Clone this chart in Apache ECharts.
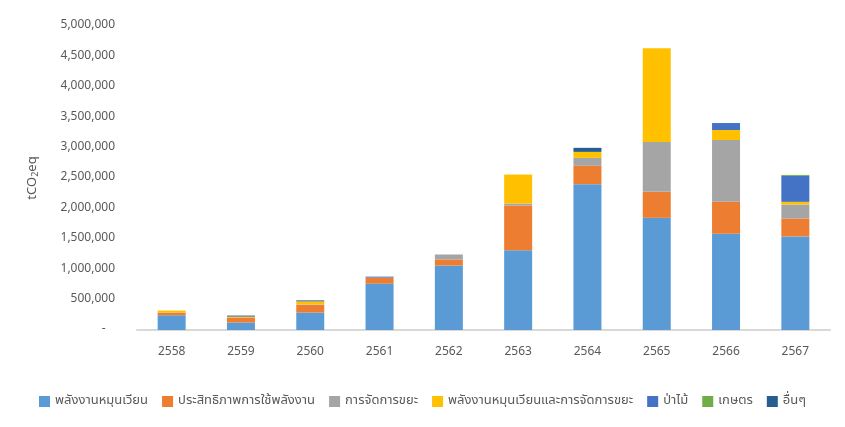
<!DOCTYPE html>
<html>
<head>
<meta charset="utf-8">
<script src="https://cdn.jsdelivr.net/npm/echarts@6/dist/echarts.min.js"></script>
<style>
  html, body { margin: 0; padding: 0; background: #fff; }
  #chart { width: 845px; height: 427px; }
</style>
</head>
<body>
<div id="chart"></div>
<script>
// ปี พ.ศ.
var years = ['2558', '2559', '2560', '2561', '2562', '2563', '2564', '2565', '2566', '2567'];
var seriesNames = ['พลังงานหมุนเวียน', 'ประสิทธิภาพการใช้พลังงาน', 'การจัดการขยะ',
  'พลังงานหมุนเวียนและการจัดการขยะ', 'ป่าไม้', 'เกษตร', 'อื่นๆ'];
var seriesColors = ['#5B9BD5', '#ED7D31', '#A5A5A5', '#FFC000', '#4472C4', '#70AD47', '#255E91'];

// tCO2eq
var renewable = [243000, 123000, 287000, 763000, 1061000, 1313000, 2399000, 1845000, 1583000, 1539000];
var efficiency = [44000, 82000, 126000, 99000, 99000, 734000, 301000, 427000, 525000, 295000];
var waste = [0, 0, 8000, 0, 82000, 33000, 131000, 820000, 1017000, 230000];
var renewWaste = [33000, 16000, 50000, 0, 0, 477000, 99000, 1542000, 164000, 44000];
var forest = [0, 0, 0, 16000, 0, 0, 0, 0, 115000, 427000];
var agri = [0, 0, 0, 0, 0, 0, 0, 0, 0, 16000];
var others = [0, 16000, 16000, 0, 0, 0, 66000, 0, 0, 0];

var yMax = 5000000;
var yStep = 500000;

var allData = [renewable, efficiency, waste, renewWaste, forest, agri, others];
var font = 'Tahoma, "Noto Sans Thai", "Noto Sans", "Liberation Sans", sans-serif';

var chart = echarts.init(document.getElementById('chart'));
chart.setOption({
  backgroundColor: '#fff',
  animation: false,
  textStyle: { fontFamily: font },
  grid: { left: 137, right: 15, top: 26, bottom: 97 },
  legend: {
    bottom: 14,
    left: 'center',
    itemWidth: 11,
    itemHeight: 11,
    itemGap: 14,
    icon: 'rect',
    textStyle: { color: '#595959', fontSize: 13, fontFamily: font },
    data: seriesNames
  },
  xAxis: {
    type: 'category',
    data: years,
    axisLine: { lineStyle: { color: '#D9D9D9', width: 2 } },
    axisTick: { show: false },
    axisLabel: { color: '#595959', fontSize: 12, margin: 17 }
  },
  yAxis: {
    type: 'value',
    min: 0,
    max: yMax,
    interval: yStep,
    name: '{n|tCO}{s|2}{n|eq}',
    nameLocation: 'middle',
    nameRotate: 90,
    nameGap: 96,
    nameTextStyle: {
      rich: {
        n: { color: '#595959', fontSize: 13, fontFamily: font },
        s: { color: '#595959', fontSize: 9, fontFamily: font, padding: [6, 0, 0, 0] }
      }
    },
    axisLine: { show: false },
    axisTick: { show: false },
    splitLine: { show: false },
    axisLabel: {
      color: '#595959',
      fontSize: 12,
      margin: 22,
      formatter: function (v) {
        return v === 0 ? '-   ' : v.toLocaleString('en-US');
      }
    }
  },
  series: seriesNames.map(function (name, i) {
    return {
      name: name,
      type: 'bar',
      stack: 'total',
      barWidth: 28,
      itemStyle: { color: seriesColors[i] },
      data: allData[i]
    };
  })
});
</script>
</body>
</html>
